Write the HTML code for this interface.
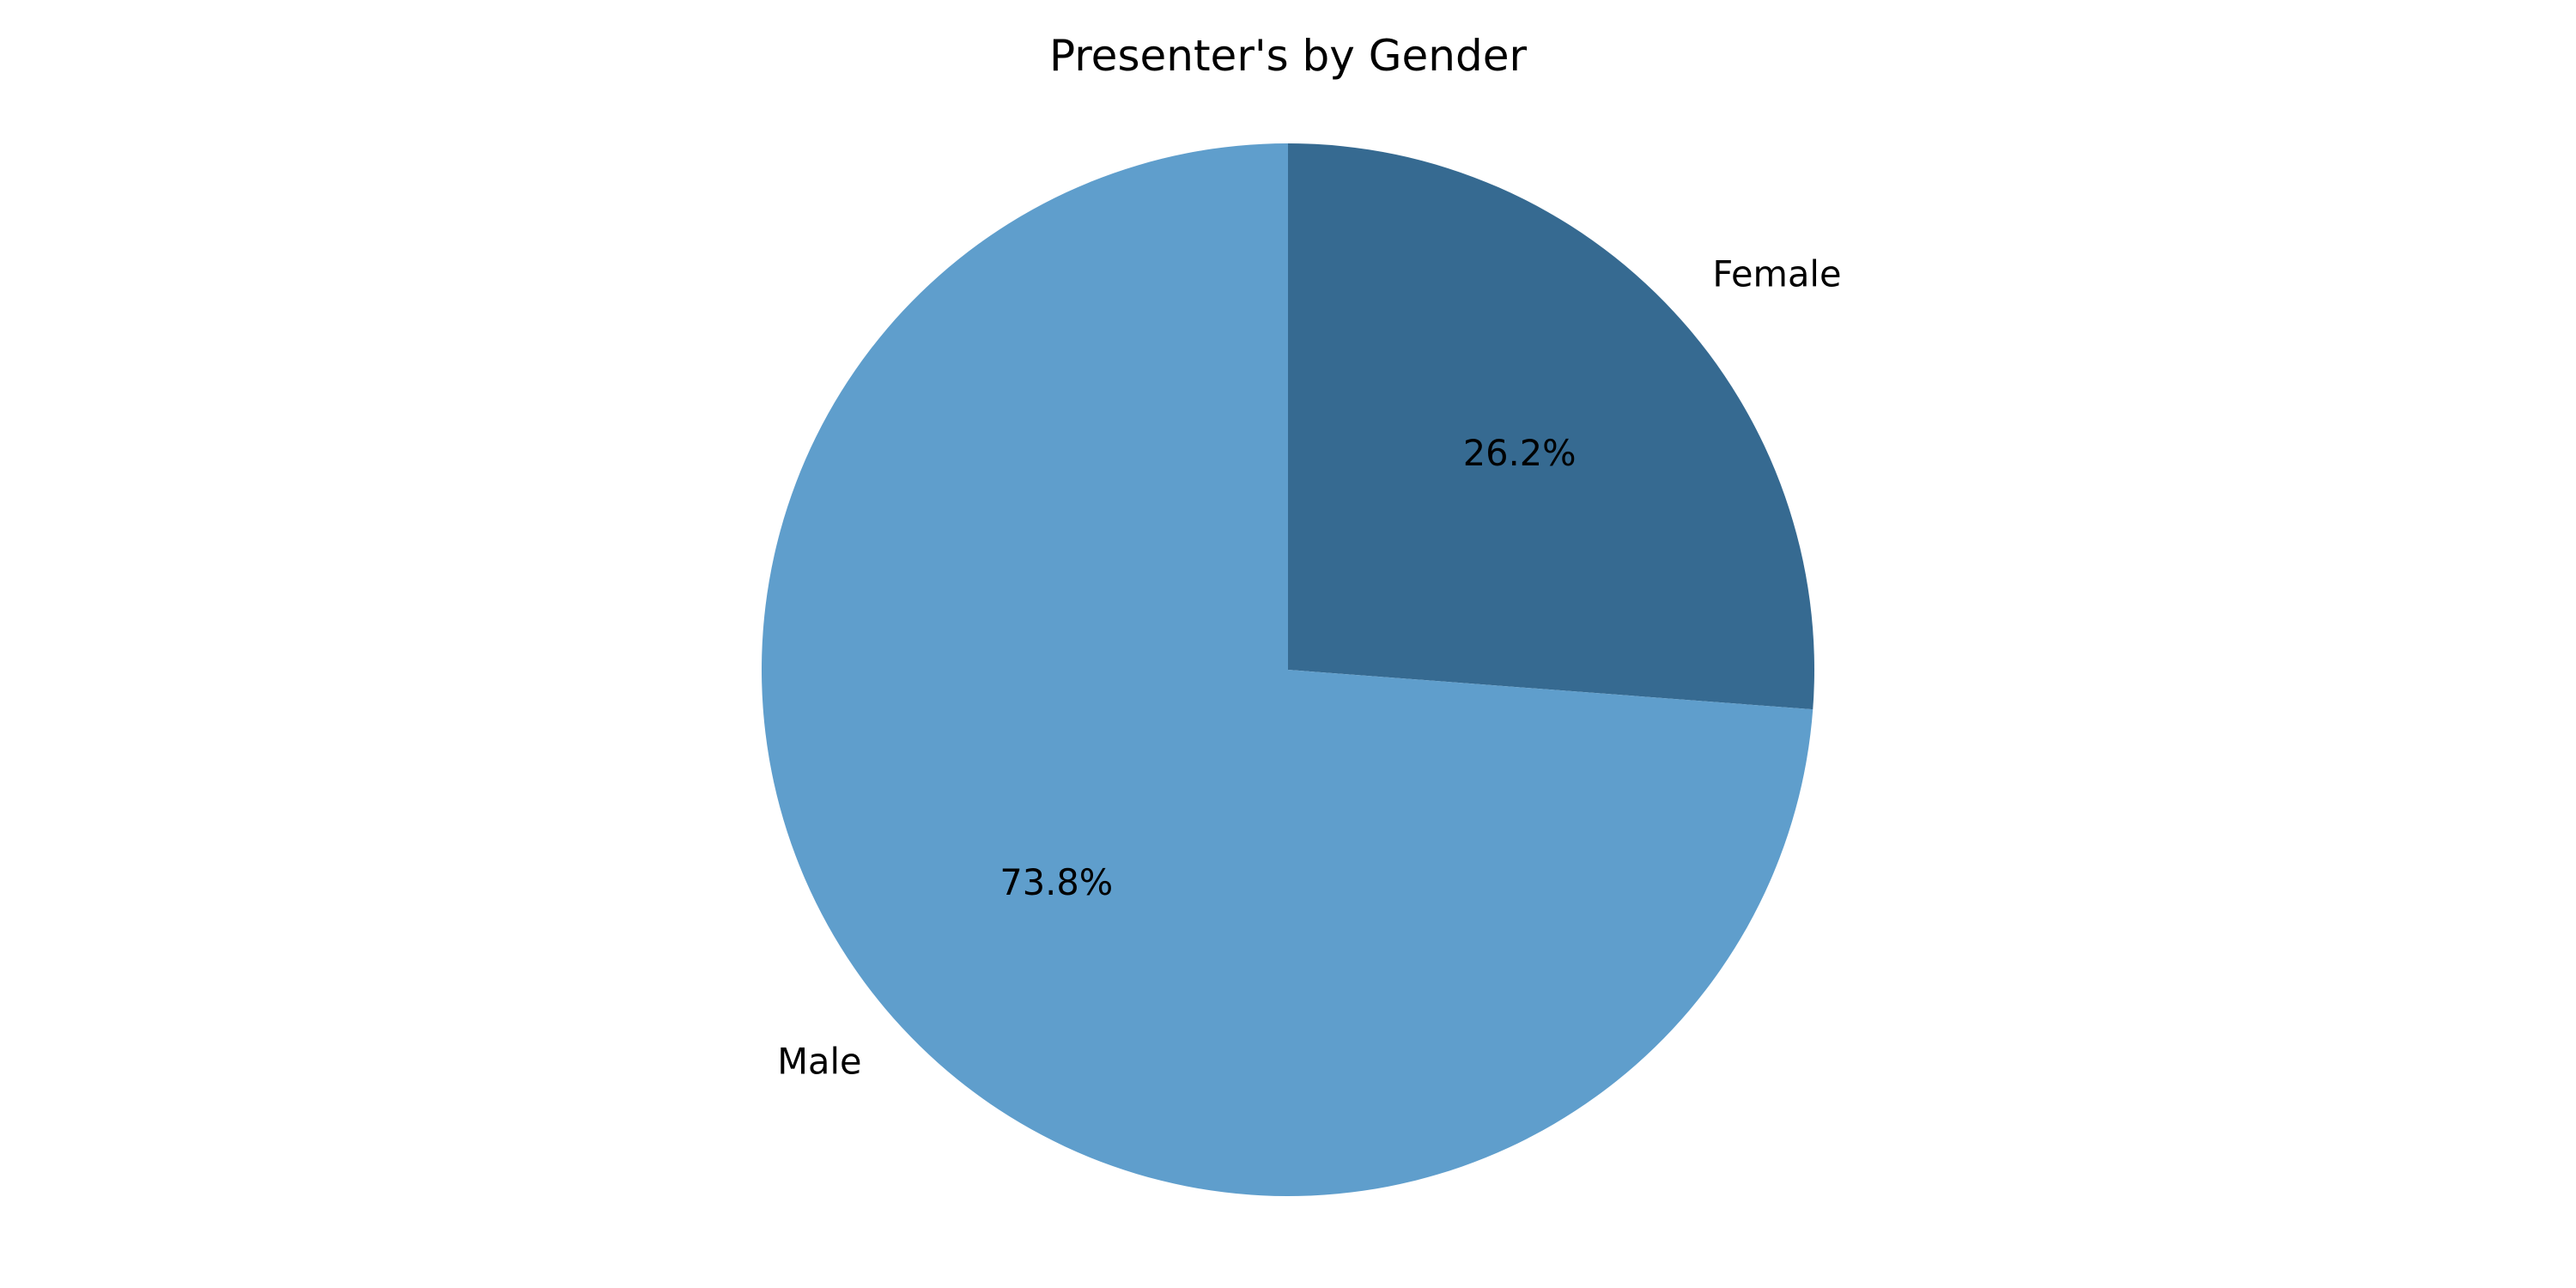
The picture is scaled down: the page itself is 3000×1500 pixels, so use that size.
<!DOCTYPE html>
<html><head><meta charset="utf-8"><style>
html,body{margin:0;padding:0;background:#fff;}
svg{display:block;font-family:"DejaVu Sans","Liberation Sans",sans-serif;}
</style></head><body>
<svg id="chart" width="3000" height="1500" viewBox="0 0 3000 1500" xmlns="http://www.w3.org/2000/svg">
<rect width="3000" height="1500" fill="#fff"/>
<text x="1500" y="82" text-anchor="middle" font-size="50" fill="#000">Presenter's by Gender</text>
<g id="pie"></g>
</svg>
<script>
const categories = ["Female", "Male"];
const values = [26.2, 73.8];
const pctLabels = ["26.2%", "73.8%"];
const colors = ["#366a91", "#5f9ecc"];

const cx = 1500, cy = 780, r = 613;
const startAngle = 90;
const g = document.getElementById('pie');
const NS = 'http://www.w3.org/2000/svg';
const total = values.reduce((a, b) => a + b, 0);
function pt(deg, rad) { const a = deg * Math.PI / 180; return [cx + rad * Math.cos(a), cy - rad * Math.sin(a)]; }
let ang = startAngle;
values.forEach((v, i) => {
  const sweep = v / total * 360;
  const a0 = ang, a1 = ang - sweep;
  const p0 = pt(a0, r), p1 = pt(a1, r);
  const large = sweep > 180 ? 1 : 0;
  const path = document.createElementNS(NS, 'path');
  path.setAttribute('d', `M${cx},${cy} L${p0[0]},${p0[1]} A${r},${r} 0 ${large} 1 ${p1[0]},${p1[1]} Z`);
  path.setAttribute('fill', colors[i]);
  
  
  g.appendChild(path);
  const mid = (a0 + a1) / 2;
  const lp = pt(mid, r * 1.1);
  const lab = document.createElementNS(NS, 'text');
  lab.setAttribute('x', lp[0] + (Math.cos(mid * Math.PI / 180) >= 0 ? 0 : -2));
  lab.setAttribute('y', lp[1] + 12);
  lab.setAttribute('font-size', '41.5');
  lab.setAttribute('text-anchor', Math.cos(mid * Math.PI / 180) >= 0 ? 'start' : 'end');
  lab.textContent = categories[i];
  
  
  g.appendChild(lab);
  const pp = pt(mid, r * 0.6);
  const pl = document.createElementNS(NS, 'text');
  pl.setAttribute('x', pp[0]);
  pl.setAttribute('y', pp[1] + 12);
  pl.setAttribute('font-size', '41.5');
  pl.setAttribute('text-anchor', 'middle');
  pl.textContent = pctLabels[i];
  
  
  g.appendChild(pl);
  ang = a1;
});
</script>
</body></html>
